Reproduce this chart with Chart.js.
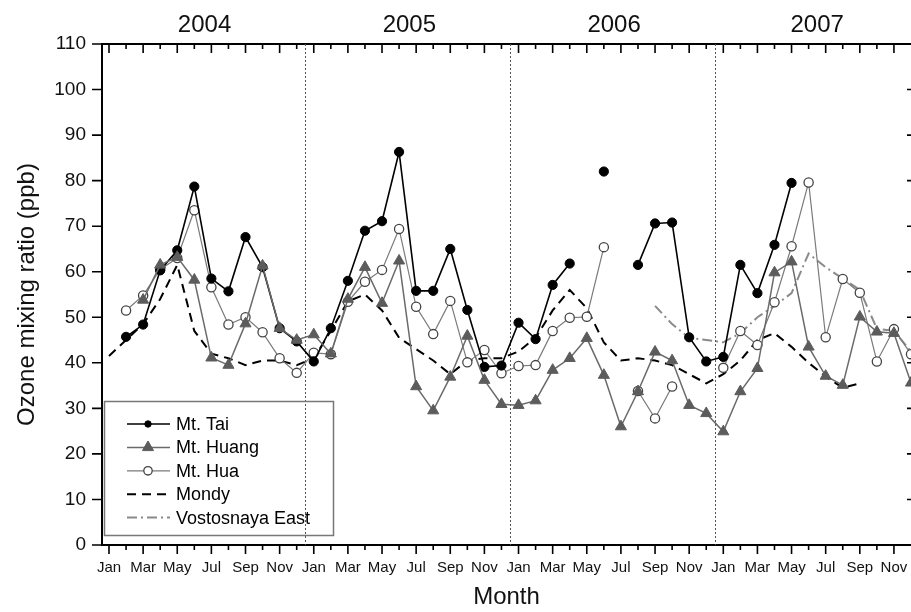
<!DOCTYPE html>
<html>
<head>
<meta charset="utf-8">
<script src="https://cdn.jsdelivr.net/npm/chart.js@4/dist/chart.umd.min.js"></script>
<style>
  html, body { margin: 0; padding: 0; background: #fff; }
  #wrap { width: 911px; height: 612px; position: relative; }
</style>
</head>
<body>
<div id="wrap"><canvas id="c"></canvas></div>
<script>
// ---- categories (month index 0 = Jan 2004 ... 47 = Dec 2007) ----
const monthNames = ['Jan','Feb','Mar','Apr','May','Jun','Jul','Aug','Sep','Oct','Nov','Dec'];
const years = ['2004','2005','2006','2007'];
const yearTickValues = [5.6, 17.6, 29.6, 41.5];
const yearBoundaries = [11.5, 23.5, 35.5];
const yTickValues = [0,10,20,30,40,50,60,70,80,90,100,110];

// ---- series values (ppb), one per month, null = no data ----
const taiValues = [
  null, 45.7, 48.4, 60.3, 64.7, 78.7, 58.5, 55.7, 67.6, 61.0, 47.6, 44.7,
  40.3, 47.6, 58.0, 69.0, 71.1, 86.3, 55.8, 55.8, 65.0, 51.6, 39.1, 39.4,
  48.8, 45.2, 57.1, 61.8, null, 82.0, null, 61.5, 70.6, 70.8, 45.6, 40.3,
  41.3, 61.5, 55.3, 65.9, 79.5, null, null, null, null, null, null, null
];
const huangValues = [
  null, null, 53.8, 61.5, 63.2, 58.2, 41.1, 39.5, 48.6, 61.3, 47.6, 45.0,
  46.2, 42.0, 54.0, 61.0, 53.1, 62.4, 34.8, 29.5, 36.9, 45.9, 36.2, 30.9,
  30.7, 31.7, 38.4, 41.0, 45.4, 37.3, 26.0, 33.7, 42.4, 40.5, 30.7, 28.9,
  24.9, 33.7, 38.8, 59.8, 62.2, 43.5, 37.1, 35.1, 50.1, 46.8, 46.5, 35.6
];
const huaValues = [
  null, 51.5, 54.8, 60.5, 63.0, 73.5, 56.6, 48.4, 50.0, 46.7, 41.0, 37.8,
  42.2, 41.9, 53.4, 57.8, 60.4, 69.4, 52.3, 46.3, 53.6, 40.1, 42.8, 37.7,
  39.3, 39.5, 47.0, 49.9, 50.1, 65.4, null, 33.8, 27.8, 34.8, null, null,
  38.9, 47.0, 43.9, 53.3, 65.6, 79.6, 45.6, 58.4, 55.4, 40.3, 47.4, 41.9
];
const mondyValues = [
  41.5, 45.0, 48.5, 54.0, 61.5, 47.0, 42.0, 41.0, 39.5, 40.5, 40.5, 39.5,
  41.0, 47.0, 53.5, 55.0, 51.5, 45.5, 43.0, 40.5, 37.5, 40.5, 41.0, 41.0,
  42.5, 45.5, 51.5, 56.0, 52.0, 44.5, 40.5, 41.0, 40.5, 39.5, 37.5, 35.5,
  37.5, 40.5, 45.0, 46.5, 43.5, 40.0, 37.0, 34.5, 35.5, null, null, null
];
const vostokValues = [
  null, null, null, null, null, null, null, null, null, null, null, null,
  null, null, null, null, null, null, null, null, null, null, null, null,
  null, null, null, null, null, null, null, null, 52.5, 48.5, 45.5, 45.0,
  44.5, 46.5, 50.0, 52.5, 55.3, 64.0, 61.0, 58.5, 56.0, 47.5, 47.0, 42.5
];
const seriesNames = ['Mt. Tai', 'Mt. Huang', 'Mt. Hua', 'Mondy', 'Vostosnaya East'];

const toPoints = vals => vals.map((v, i) => ({ x: i, y: v }));
const FONT = "'Liberation Sans', Arial, Helvetica, sans-serif";

const datasets = [
  { label: seriesNames[0], data: toPoints(taiValues), order: 1,
    borderColor: '#000', backgroundColor: '#000', borderWidth: 1.6,
    pointStyle: 'circle', pointRadius: 4.6, pointBorderWidth: 1,
    pointBackgroundColor: '#000', pointBorderColor: '#000' },
  { label: seriesNames[1], data: toPoints(huangValues), order: 0,
    borderColor: '#6a6a6a', backgroundColor: '#5c5c5c', borderWidth: 1.5,
    pointStyle: 'triangle', pointRadius: 6.4, pointBorderWidth: 1,
    pointBackgroundColor: '#5c5c5c', pointBorderColor: '#5c5c5c' },
  { label: seriesNames[2], data: toPoints(huaValues), order: 2,
    borderColor: '#7a7a7a', backgroundColor: '#fff', borderWidth: 1.2,
    pointStyle: 'circle', pointRadius: 4.6, pointBorderWidth: 1.3,
    pointBackgroundColor: '#fff', pointBorderColor: '#444' },
  { label: seriesNames[3], data: toPoints(mondyValues), order: 3,
    borderColor: '#000', borderWidth: 2, borderDash: [9, 6],
    pointRadius: 0 },
  { label: seriesNames[4], data: toPoints(vostokValues), order: 4,
    borderColor: '#8a8a8a', borderWidth: 2, borderDash: [10, 4, 2, 4],
    pointRadius: 0 }
];
datasets.forEach(d => { d.fill = false; d.tension = 0; d.spanGaps = false; d.clip = 8; });

const decor = {
  id: 'decor',
  beforeDatasetsDraw(chart) {
    const { ctx, chartArea: ca, scales: { x } } = chart;
    ctx.save();
    ctx.strokeStyle = '#555';
    ctx.lineWidth = 1;
    ctx.setLineDash([2, 2]);
    yearBoundaries.forEach(v => {
      const px = Math.round(x.getPixelForValue(v)) + 0.5;
      ctx.beginPath(); ctx.moveTo(px, ca.top); ctx.lineTo(px, ca.bottom); ctx.stroke();
    });
    ctx.restore();
  },
  afterDraw(chart) {
    const { ctx, chartArea: ca, scales: { x, y } } = chart;
    ctx.save();
    ctx.strokeStyle = '#000';
    ctx.lineWidth = 1.6;
    for (let i = 0; i < 48; i++) {
      const px = x.getPixelForValue(i);
      if (px < ca.left || px > ca.right - 1) continue;
      const len = i % 2 === 0 ? 9 : 5;
      ctx.beginPath();
      ctx.moveTo(px, ca.bottom); ctx.lineTo(px, ca.bottom + len);
      ctx.moveTo(px, ca.top); ctx.lineTo(px, ca.top + len);
      ctx.stroke();
    }
    yTickValues.forEach(v => {
      const py = y.getPixelForValue(v);
      ctx.beginPath();
      ctx.moveTo(ca.left - 10, py); ctx.lineTo(ca.left, py);
      ctx.moveTo(ca.right, py); ctx.lineTo(ca.right - 4, py);
      ctx.stroke();
    });
    // legend
    const bx = ca.left + 2.5, by = 401.5, bw = 229, bh = 134;
    ctx.strokeStyle = '#777';
    ctx.lineWidth = 1.5;
    ctx.strokeRect(bx, by, bw, bh);
    const rowY0 = 424, rowH = 23.4;
    const x0 = 127, x1 = 170, xm = 148, xt = 176;
    ctx.font = '18px ' + FONT;
    ctx.textBaseline = 'middle';
    ctx.textAlign = 'left';
    chart.data.datasets.forEach((d, k) => {
      const ry = rowY0 + rowH * k;
      ctx.save();
      ctx.strokeStyle = d.borderColor;
      ctx.lineWidth = d.borderWidth;
      ctx.setLineDash(d.borderDash || []);
      ctx.beginPath(); ctx.moveTo(x0, ry); ctx.lineTo(x1, ry); ctx.stroke();
      ctx.setLineDash([]);
      if (d.pointRadius > 0) {
        ctx.fillStyle = d.pointBackgroundColor;
        ctx.strokeStyle = d.pointBorderColor;
        ctx.lineWidth = d.pointBorderWidth;
        ctx.beginPath();
        if (d.pointStyle === 'triangle') {
          const r = d.pointRadius;
          ctx.moveTo(xm, ry - r);
          ctx.lineTo(xm + r * 0.866, ry + r * 0.5);
          ctx.lineTo(xm - r * 0.866, ry + r * 0.5);
          ctx.closePath();
        } else {
          const r = k === 0 ? 3.2 : 4.2;
          ctx.arc(xm, ry, r, 0, Math.PI * 2);
        }
        ctx.fill(); ctx.stroke();
      }
      ctx.restore();
      ctx.fillStyle = '#000';
      ctx.fillText(d.label, xt, ry + 1);
    });
    ctx.restore();
  }
};

new Chart(document.getElementById('c'), {
  type: 'line',
  data: { datasets },
  plugins: [decor],
  options: {
    responsive: true,
    maintainAspectRatio: false,
    animation: false,
    events: [],
    layout: { padding: 0, autoPadding: false },
    plugins: { legend: { display: false }, tooltip: { enabled: false }, title: { display: false } },
    scales: {
      x: {
        type: 'linear', position: 'bottom', bounds: 'data',
        min: -0.41, max: 47,
        afterBuildTicks: s => { s.ticks = []; for (let i = 0; i < 47; i++) s.ticks.push({ value: i }); },
        afterFit: s => { s.height = 67; s.paddingLeft = 0; s.paddingRight = 0; },
        grid: { display: false, drawTicks: false },
        border: { display: true, color: '#000', width: 2 },
        ticks: {
          autoSkip: false, maxRotation: 0, minRotation: 0, padding: 14,
          color: '#111', font: { family: FONT, size: 15 },
          callback: v => (v % 2 === 0 ? monthNames[v % 12] : '')
        },
        title: { display: true, text: 'Month', color: '#111',
          font: { family: FONT, size: 24 }, padding: { top: 0, bottom: 0 } }
      },
      xTop: {
        type: 'linear', position: 'top', bounds: 'data',
        min: -0.41, max: 47,
        afterBuildTicks: s => { s.ticks = yearTickValues.map(v => ({ value: v })); },
        afterFit: s => { s.height = 44; s.paddingLeft = 0; s.paddingRight = 0; },
        grid: { display: false, drawTicks: false },
        border: { display: true, color: '#000', width: 2 },
        ticks: {
          autoSkip: false, maxRotation: 0, minRotation: 0, padding: 4,
          color: '#111', font: { family: FONT, size: 24 },
          callback: (v, i) => years[i]
        }
      },
      y: {
        type: 'linear', position: 'left', min: 0, max: 110,
        afterBuildTicks: s => { s.ticks = yTickValues.map(v => ({ value: v })); },
        afterFit: s => { s.width = 102; },
        grid: { display: false, drawTicks: false },
        border: { display: true, color: '#000', width: 2 },
        ticks: { padding: 16, color: '#111', font: { family: FONT, size: 19 } },
        title: { display: true, text: 'Ozone mixing ratio (ppb)', color: '#111',
          font: { family: FONT, size: 24 }, padding: { top: 12.6, bottom: 0 } }
      }
    }
  }
});
</script>
</body>
</html>
